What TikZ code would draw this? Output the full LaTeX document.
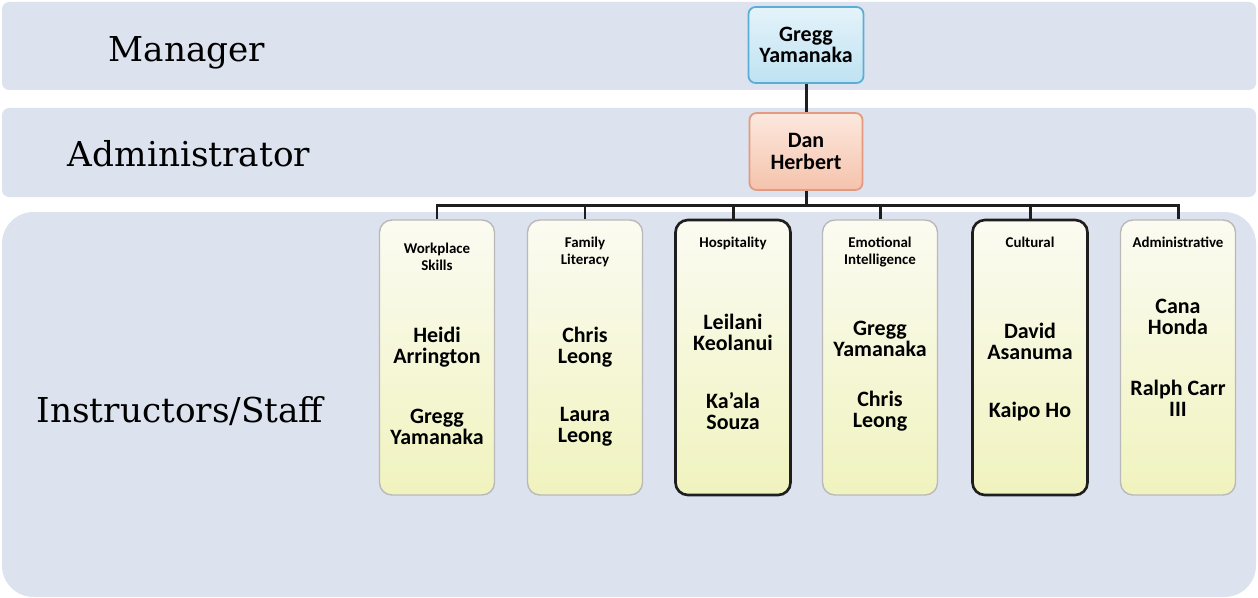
\documentclass[tikz,border=0pt]{standalone}
\usepackage{fontspec}
\setmainfont{Carlito}
\newfontfamily\bandfont{DejaVu Serif}
\usepackage{xcolor}
\usepackage{tikz}
\usetikzlibrary{positioning, calc, backgrounds}
\definecolor{bandblue}{HTML}{DCE2EE}
\definecolor{mgrtop}{HTML}{E4F3FA}
\definecolor{mgrbot}{HTML}{BFE2F2}
\definecolor{mgrline}{HTML}{5AAED6}
\definecolor{admtop}{HTML}{FCE8DE}
\definecolor{admbot}{HTML}{F5C3AC}
\definecolor{admline}{HTML}{E39A80}
\definecolor{stafftop}{HTML}{FBFBF2}
\definecolor{staffbot}{HTML}{F0F3BE}
\definecolor{linkgray}{HTML}{1E1E1E}

\begin{document}
\begin{tikzpicture}[
  x=0.02cm, y=-0.02cm,
  band/.style={fill=bandblue, draw=none},
  bandlabel/.style={anchor=base, inner sep=0pt, font=\bandfont\fontsize{19.5}{22}\selectfont},
  topbox/.style={rounded corners=4pt, line width=1pt, align=center, font=\bfseries\fontsize{12.5}{12}\selectfont, inner sep=0pt},
  staffbox/.style={draw=gray!55, line width=0.8pt, rounded corners=7pt, top color=stafftop, bottom color=staffbot, minimum width=2.3cm, minimum height=5.5cm, inner sep=0pt},
  darkbox/.style={staffbox, draw=linkgray, line width=1.5pt},
  head/.style={anchor=north, inner sep=0pt, align=center, font=\bfseries\fontsize{8.5}{9.5}\selectfont},
  who/.style={inner sep=0pt, align=center, font=\bfseries\fontsize{12.5}{12}\selectfont},
  wire/.style={draw=linkgray, line width=1.7pt},
]
  \useasboundingbox (0,0) rectangle (1258,598);

  % bands
  \fill[band, rounded corners=4pt] (2,2) rectangle (1256,90);
  \fill[band, rounded corners=4pt] (2,108) rectangle (1256,197);
  \fill[band, rounded corners=18pt] (2,212) rectangle (1256,597);

  \node[bandlabel] (lmgr) at (187,62) {Manager};
  \node[bandlabel] (ladm) at (189,167) {Administrator};
  \node[bandlabel] (lstaff) at (180,422) {Instructors/Staff};

  % top of the chart
  \node[topbox, draw=mgrline, top color=mgrtop, bottom color=mgrbot, minimum width=2.3cm, minimum height=1.52cm] (mgr) at (806,45) {Gregg\\Yamanaka};
  \node[topbox, draw=admline, top color=admtop, bottom color=admbot, minimum width=2.26cm, minimum height=1.54cm] (adm) at (806,151.5) {Dan\\Herbert};

  % programs
  \node[staffbox] (skills) at (437,357.5) {};
  \node[staffbox] (family) at (585,357.5) {};
  \node[darkbox] (hosp) at (733,357.5) {};
  \node[staffbox] (emo) at (880,357.5) {};
  \node[darkbox] (cult) at (1030,357.5) {};
  \node[staffbox] (admin) at (1178,357.5) {};

  \node[head] (skillshead) at (437,243) {Workplace\\Skills};
  \node[head] (familyhead) at (585,237) {Family\\Literacy};
  \node[head] (hosphead) at (733,237) {Hospitality};
  \node[head] (emohead) at (880,237) {Emotional\\Intelligence};
  \node[head] (culthead) at (1030,237) {Cultural};
  \node[head] (adminhead) at (1178,237) {Administrative};

  \node[who] (heidi) at (437,347) {Heidi\\Arrington};
  \node[who] (gregg) at (437,427) {Gregg\\Yamanaka};
  \node[who] (chris) at (585,347) {Chris\\Leong};
  \node[who] (laura) at (585,427) {Laura\\Leong};
  \node[who] (leilani) at (733,332) {Leilani\\Keolanui};
  \node[who] (kaala) at (733,411) {Ka'ala\\Souza};
  \node[who] (greggy) at (880,339) {Gregg\\Yamanaka};
  \node[who] (chrisl) at (880,411) {Chris\\Leong};
  \node[who] (david) at (1030,341) {David\\Asanuma};
  \node[who] (kaipo) at (1030,412) {Kaipo Ho};
  \node[who] (cana) at (1178,317) {Cana\\Honda};
  \node[who] (ralph) at (1178,398) {Ralph Carr\\III};

  % connectors
  \coordinate (bus) at (806,205.5);
  \draw[wire] (mgr) -- (adm);
  \draw[wire] (adm.south) -- (bus);
  \draw[wire] (skills.north) |- (bus) -| (admin.north);
  \draw[wire] (family.north) -- (family.north |- bus);
  \draw[wire] (hosp.north) -- (hosp.north |- bus);
  \draw[wire] (emo.north) -- (emo.north |- bus);
  \draw[wire] (cult.north) -- (cult.north |- bus);
\end{tikzpicture}
\end{document}
